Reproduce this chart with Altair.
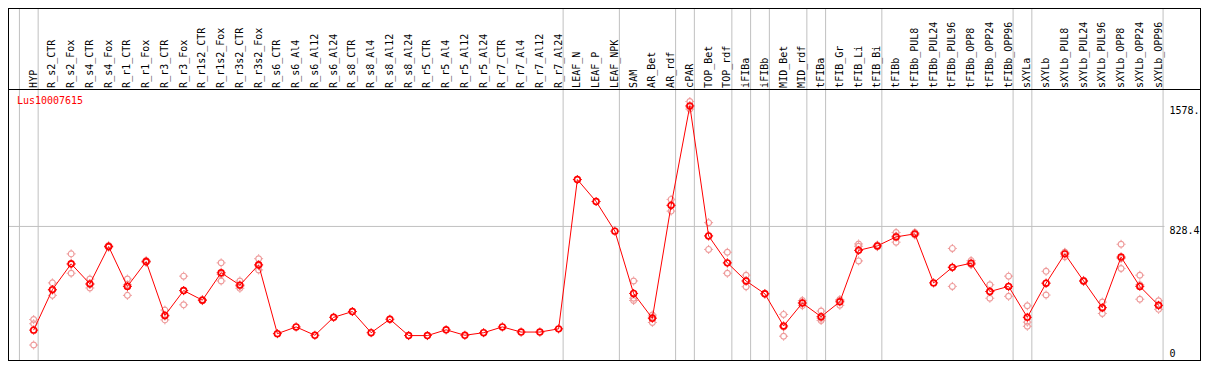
import altair as alt
import pandas as pd

# ---------------- data ----------------
labels = ["HYP", "R_s2_CTR", "R_s2_Fox", "R_s4_CTR", "R_s4_Fox", "R_r1_CTR", "R_r1_Fox",
          "R_r3_CTR", "R_r3_Fox", "R_r1s2_CTR", "R_r1s2_Fox", "R_r3s2_CTR", "R_r3s2_Fox",
          "R_s6_CTR", "R_s6_Al4", "R_s6_Al12", "R_s6_Al24", "R_s8_CTR", "R_s8_Al4", "R_s8_Al12",
          "R_s8_Al24", "R_r5_CTR", "R_r5_Al4", "R_r5_Al12", "R_r5_Al24", "R_r7_CTR", "R_r7_Al4",
          "R_r7_Al12", "R_r7_Al24", "LEAF_N", "LEAF_P", "LEAF_NPK", "SAM", "AR_Bet", "AR_rdf",
          "cPAR", "TOP_Bet", "TOP_rdf", "iFIBa", "iFIBb", "MID_Bet", "MID_rdf", "tFIBa",
          "tFIB_Gr", "tFIB_Li", "tFIB_Bi", "tFIBb", "tFIBb_PUL8", "tFIBb_PUL24", "tFIBb_PUL96",
          "tFIBb_OPP8", "tFIBb_OPP24", "tFIBb_OPP96", "sXYLa", "sXYLb", "sXYLb_PUL8",
          "sXYLb_PUL24", "sXYLb_PUL96", "sXYLb_OPP8", "sXYLb_OPP24", "sXYLb_OPP96"]

means = [181, 434, 595, 470, 703, 454, 609, 273, 428, 368, 539, 462, 589,
         159, 201, 149, 261, 297, 165, 249, 147, 147, 183, 149, 165, 201, 169, 169, 189,
         1121, 984, 799, 410, 255, 960, 1581, 769, 601, 488, 408, 207, 350, 265,
         358, 679, 707, 763, 782, 476, 573, 599, 422, 454, 261, 474, 657, 488, 321, 637, 454, 336]

replicates = [
    [247, 221, 88], [476, 398, 430], [657, 536, 592], [500, 444, 466], [710, 700, 699],
    [500, 398, 464], [616, 605, 606], [306, 245, 268], [518, 339, 427], [372, 365, 367],
    [601, 488, 528], [488, 442, 456], [627, 557, 583],
    [], [], [], [], [], [], [], [], [], [], [], [], [], [], [], [],
    [], [], [],
    [488, 380, 366], [275, 229, 262], [997, 924, 960], [1608, 1561, 1575],
    [852, 685, 770], [667, 536, 600], [524, 452, 488], [410, 406], [279, 143, 200],
    [366, 334, 352], [300, 241, 255], [336, 372, 366], [719, 613, 705], [712, 702],
    [790, 730, 768], [790, 775], [], [691, 454, 574], [615, 590, 592], [464, 380, 422],
    [518, 392, 452], [333, 231, 205], [548, 400, 474], [639, 665, 667], [492, 484],
    [356, 285, 322], [717, 566, 628], [524, 374, 464], [364, 311, 333],
]

group_sizes = [1, 28, 3, 3, 1, 2, 1, 1, 2, 1, 3, 7, 1, 7]
gene = "Lus10007615"
tick_values = [1578, 828.4]
tick_texts = ["1578.", "828.4"]
zero_text = "0"

# ---------------- tables ----------------
idx = list(range(len(labels)))
mean_df = pd.DataFrame({"i": idx, "label": labels, "v": means})
rep_rows = [{"i": i, "v": r} for i, reps in enumerate(replicates) for r in reps]
rep_df = pd.DataFrame(rep_rows)

ends = [-1]
c = 0
for g in group_sizes:
    c += g
    ends.append(c - 1)
sep_df = pd.DataFrame({"sep": [e + 0.24 for e in ends]})

tick_df = pd.DataFrame({"v": tick_values, "t": tick_texts})
zero_df = pd.DataFrame({"v": [0], "t": [zero_text]})
grid_df = pd.DataFrame({"v": [828.4]})
title_df = pd.DataFrame({"t": [gene]})

# ---------------- geometry ----------------
W, H = 1193, 354
sx, sy = W / 1209, H / 370


def px(x):
    return x * sx


def py(y):
    return y * sy


xs = alt.Scale(domain=[-26 / 19, (1209 - 26) / 19], nice=False, zero=False)
ys = alt.Scale(domain=[(367 - 370) / 0.16743, 367 / 0.16743], nice=False, zero=False)

FONT = "DejaVu Sans Mono"
GRID = "#c0c0c0"
TICKS = "M0,-0.72L0,-1M0,0.72L0,1M-0.72,0L-1,0M0.72,0L1,0"

X = alt.X("i:Q", scale=xs, axis=None)
Y = alt.Y("v:Q", scale=ys, axis=None)

seps = alt.Chart(sep_df).mark_rule(color=GRID, strokeWidth=1).encode(
    x=alt.X("sep:Q", scale=xs, axis=None),
    y=alt.value(0), y2=alt.value(py(368)))

grid = alt.Chart(grid_df).mark_rule(color=GRID, strokeWidth=1).encode(
    y=Y, x=alt.value(0), x2=alt.value(px(1172)))


def hrule(y, x0=0, x1=W):
    return alt.Chart(title_df).mark_rule(color="black", strokeWidth=1).encode(
        x=alt.value(x0), x2=alt.value(x1), y=alt.value(y))


def vrule(x, y0=0, y1=H):
    return alt.Chart(title_df).mark_rule(color="black", strokeWidth=1).encode(
        y=alt.value(y0), y2=alt.value(y1), x=alt.value(x))


frame = [hrule(0.5), hrule(round(py(85)) + 0.5), hrule(round(py(368)) + 0.5),
         vrule(0.5, 0, round(py(368)) + 1), vrule(W - 0.5, 0, round(py(368)) + 1)]

cat_labels = alt.Chart(mean_df).mark_text(
    angle=270, align="left", baseline="middle", font=FONT, fontSize=10, color="black"
).encode(x=X, y=alt.value(py(83.5)), text="label:N")

title = alt.Chart(title_df).mark_text(
    align="left", baseline="middle", font=FONT, fontSize=10, color="red"
).encode(x=alt.value(px(9)), y=alt.value(py(97)), text="t:N")

ticks = alt.Chart(tick_df).mark_text(
    align="left", baseline="top", font=FONT, fontSize=10, color="black"
).encode(x=alt.value(px(1177)), y=Y, text="t:N")

zero = alt.Chart(zero_df).mark_text(
    align="left", baseline="bottom", font=FONT, fontSize=10, color="black"
).encode(x=alt.value(px(1177)), y=Y, text="t:N")


def marker(df, color, sw):
    ring = alt.Chart(df).mark_point(
        shape="circle", filled=False, color=color, strokeWidth=sw, size=34, opacity=1
    ).encode(x=X, y=Y)
    nubs = alt.Chart(df).mark_point(
        shape=TICKS, filled=False, color=color, strokeWidth=1, size=81, opacity=1
    ).encode(x=X, y=Y)
    return [ring, nubs]


line = alt.Chart(mean_df).mark_line(color="red", strokeWidth=1).encode(
    x=X, y=Y, order="i:Q")

chart = alt.layer(
    seps, grid, *frame, cat_labels, title, ticks, zero,
    *marker(rep_df, "#ee9a9a", 1.2), line, *marker(mean_df, "red", 1.6)
).properties(
    width=W, height=H, padding=0, autosize="none", background="white"
).configure_view(stroke=None)

chart.save("out.html", embed_options={"renderer": "svg", "actions": False})
